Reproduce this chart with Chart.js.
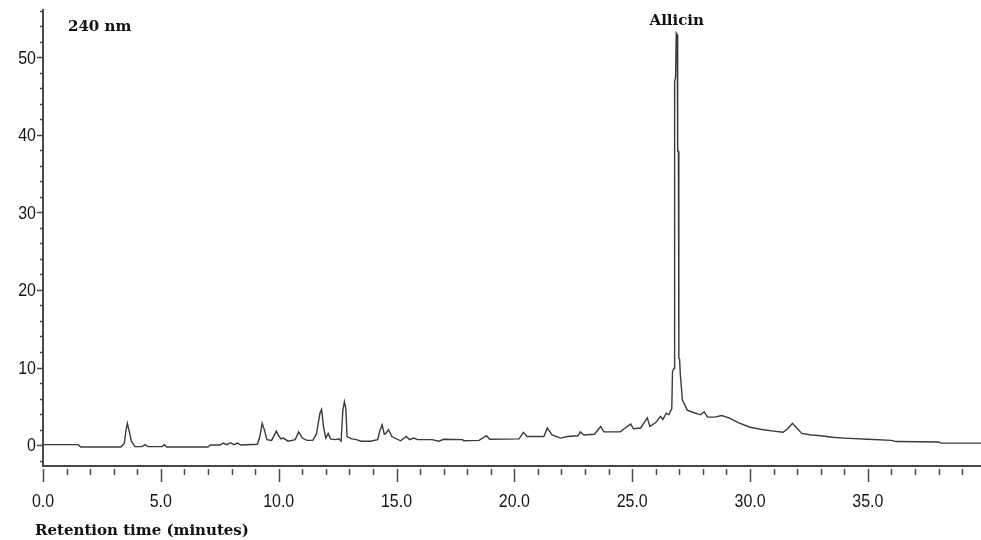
<!DOCTYPE html>
<html>
<head>
<meta charset="utf-8">
<script src="https://cdn.jsdelivr.net/npm/chart.js@4/dist/chart.umd.min.js"></script>
<style>
  html, body { margin: 0; padding: 0; background: #fff; }
  canvas { display: block; }
</style>
</head>
<body>
<canvas id="chart" width="981" height="540"></canvas>
<script>
// retention time (min) and absorbance
const retentionTimes = [
  0.0, 1.5, 1.6, 3.3, 3.45, 3.52, 3.58, 3.65, 3.75, 3.9, 4.2, 4.33, 4.45, 5.05, 5.15, 5.25,
  7.0, 7.1, 7.5, 7.65, 7.8, 7.95, 8.1, 8.25, 8.4, 9.1, 9.2, 9.3, 9.4, 9.5, 9.7, 9.9,
  10.0, 10.1, 10.2, 10.4, 10.7, 10.85, 11.0, 11.2, 11.45, 11.6, 11.75, 11.82, 11.9, 12.0,
  12.1, 12.2, 12.4, 12.55, 12.65, 12.72, 12.79, 12.85, 12.9, 13.1, 13.3, 13.5, 13.9, 14.2,
  14.3, 14.39, 14.48, 14.55, 14.66, 14.8, 15.17, 15.42, 15.55, 15.73, 15.9, 16.5, 16.8,
  17.0, 17.8, 17.85, 18.5, 18.82, 18.95, 20.2, 20.38, 20.55, 21.25, 21.4, 21.6, 21.96,
  22.25, 22.7, 22.8, 22.95, 23.4, 23.66, 23.8, 24.5, 24.7, 24.94, 25.05, 25.36, 25.64,
  25.75, 26.0, 26.2, 26.3, 26.45, 26.55, 26.68, 26.71, 26.78, 26.8, 26.84, 26.87, 26.91,
  26.93, 26.96, 26.98, 27.01, 27.04, 27.13, 27.34, 27.6, 27.9, 28.05, 28.2, 28.5, 28.8,
  29.1, 29.5, 30.0, 30.5, 31.0, 31.4, 31.6, 31.8, 31.95, 32.2, 32.6, 33.0, 33.5, 34.0,
  35.0, 36.0, 36.2, 38.0, 38.1, 39.8
];
const absorbance = [
  0.05, 0.05, -0.25, -0.25, 0.2, 1.9, 2.8, 1.9, 0.5, -0.2, -0.2, 0.05, -0.2, -0.2, 0.05, -0.25,
  -0.25, 0.0, 0.0, 0.25, 0.05, 0.3, 0.05, 0.25, 0.0, 0.1, 1.1, 2.8, 1.9, 0.7, 0.6, 1.8,
  1.2, 0.8, 0.9, 0.5, 0.7, 1.7, 0.9, 0.6, 0.6, 1.4, 4.1, 4.6, 2.4, 0.9,
  1.5, 0.8, 0.7, 0.8, 0.5, 4.4, 5.6, 4.7, 1.1, 0.8, 0.7, 0.5, 0.5, 0.7,
  1.9, 2.6, 1.4, 1.5, 2.0, 1.1, 0.55, 1.1, 0.7, 0.9, 0.7, 0.7, 0.5,
  0.75, 0.7, 0.55, 0.6, 1.2, 0.75, 0.8, 1.65, 1.1, 1.1, 2.2, 1.3, 0.9,
  1.1, 1.2, 1.7, 1.3, 1.4, 2.4, 1.7, 1.7, 2.2, 2.7, 2.1, 2.2, 3.5,
  2.4, 2.9, 3.7, 3.3, 4.1, 3.9, 4.7, 9.5, 9.9, 46.9, 47.4, 53.1, 52.9,
  37.9, 37.9, 11.2, 11.1, 9.2, 5.8, 4.5, 4.2, 3.9, 4.3, 3.6, 3.6, 3.8,
  3.5, 2.9, 2.3, 2.0, 1.8, 1.65, 2.1, 2.8, 2.3, 1.5, 1.3, 1.2, 1.0, 0.9,
  0.75, 0.6, 0.45, 0.4, 0.25, 0.25
];

const xMajorTicks = [0, 5, 10, 15, 20, 25, 30, 35];
const xMinorTicks = [1, 2, 3, 4, 6, 7, 8, 9, 11, 12, 13, 14, 16, 17, 18, 19, 21, 22, 23, 24,
  26, 27, 28, 29, 31, 32, 33, 34, 36, 37, 38, 39];
const yMajorTicks = [0, 10, 20, 30, 40, 50];
const yMinorTicks = [-2, 2, 4, 6, 8, 12, 14, 16, 18, 22, 24, 26, 28, 32, 34, 36, 38,
  42, 44, 46, 48, 52, 54, 56];

const peakLabel = { text: 'Allicin', x: 26.89, y: 53.1 };
const wavelengthLabel = '240 nm';
const xAxisTitle = 'Retention time (minutes)';

const axisColor = '#4a4a4a';
const traceColor = '#3a3a3a';
const tickFont = "19px 'Liberation Sans', Arial, sans-serif";
const narrow = 0.84; // squeeze to look like a narrow face
const labelFont = "bold 15px 'DejaVu Serif', serif";

// narrow text: scale the context horizontally around the anchor point
function narrowText(ctx, text, x, y) {
  ctx.save();
  ctx.translate(x, y);
  ctx.scale(narrow, 1);
  ctx.fillText(text, 0, 0);
  ctx.restore();
}

// tick marks (major + minor), tick labels and the annotations
const decorations = {
  id: 'decorations',
  afterDraw(chart) {
    const ctx = chart.ctx;
    const xs = chart.scales.x;
    const ys = chart.scales.y;
    const area = chart.chartArea;
    ctx.save();
    ctx.strokeStyle = axisColor;
    ctx.lineWidth = 1.5;
    ctx.beginPath();
    xMajorTicks.forEach(v => {
      const px = Math.round(xs.getPixelForValue(v)) + 0.5;
      ctx.moveTo(px, area.bottom + 3);
      ctx.lineTo(px, area.bottom + 16);
    });
    xMinorTicks.forEach(v => {
      const px = Math.round(xs.getPixelForValue(v)) + 0.5;
      ctx.moveTo(px, area.bottom + 3);
      ctx.lineTo(px, area.bottom + 9);
    });
    yMajorTicks.forEach(v => {
      const py = Math.round(ys.getPixelForValue(v)) + 0.5;
      ctx.moveTo(area.left - 6, py);
      ctx.lineTo(area.left, py);
    });
    yMinorTicks.forEach(v => {
      const py = Math.round(ys.getPixelForValue(v)) + 0.5;
      ctx.moveTo(area.left - 3, py);
      ctx.lineTo(area.left, py);
    });
    ctx.stroke();

    ctx.fillStyle = '#151515';
    ctx.font = tickFont;
    ctx.textBaseline = 'middle';
    ctx.textAlign = 'center';
    xMajorTicks.forEach(v => {
      narrowText(ctx, v.toFixed(1), xs.getPixelForValue(v), area.bottom + 36);
    });
    ctx.textAlign = 'right';
    yMajorTicks.forEach(v => {
      narrowText(ctx, String(v), area.left - 7, ys.getPixelForValue(v) + 1);
    });

    ctx.fillStyle = '#111';
    ctx.font = labelFont;
    ctx.textBaseline = 'alphabetic';
    ctx.textAlign = 'left';
    ctx.fillText(wavelengthLabel, 68, 31);
    ctx.fillText(xAxisTitle, 35, 535);
    ctx.textAlign = 'center';
    ctx.fillText(peakLabel.text, xs.getPixelForValue(peakLabel.x), ys.getPixelForValue(peakLabel.y) - 8);
    ctx.restore();
  }
};

new Chart(document.getElementById('chart'), {
  type: 'line',
  data: {
    datasets: [{
      data: retentionTimes.map((t, i) => ({ x: t, y: absorbance[i] })),
      borderColor: traceColor,
      borderWidth: 1.4,
      pointRadius: 0,
      tension: 0,
      fill: false
    }]
  },
  options: {
    responsive: false,
    animation: false,
    layout: { padding: { top: 10, right: 0, left: 0, bottom: 0 } },
    plugins: {
      legend: { display: false },
      tooltip: { enabled: false }
    },
    scales: {
      x: {
        type: 'linear',
        min: 0,
        max: 39.8,
        afterBuildTicks: s => { s.ticks = xMajorTicks.map(v => ({ value: v })) },
        afterFit: s => { s.height = 74; s.paddingLeft = 0; s.paddingRight = 0 },
        border: { display: true, color: axisColor, width: 2 },
        grid: { display: true, drawOnChartArea: false, drawTicks: false },
        ticks: { display: false }
      },
      y: {
        min: -2.7,
        max: 56.1,
        afterBuildTicks: s => { s.ticks = yMajorTicks.map(v => ({ value: v })) },
        afterFit: s => { s.width = 43; s.paddingTop = 0; s.paddingBottom = 0 },
        border: { display: true, color: axisColor, width: 2 },
        grid: { display: true, drawOnChartArea: false, drawTicks: false },
        ticks: { display: false }
      }
    }
  },
  plugins: [decorations]
});
</script>
</body>
</html>
